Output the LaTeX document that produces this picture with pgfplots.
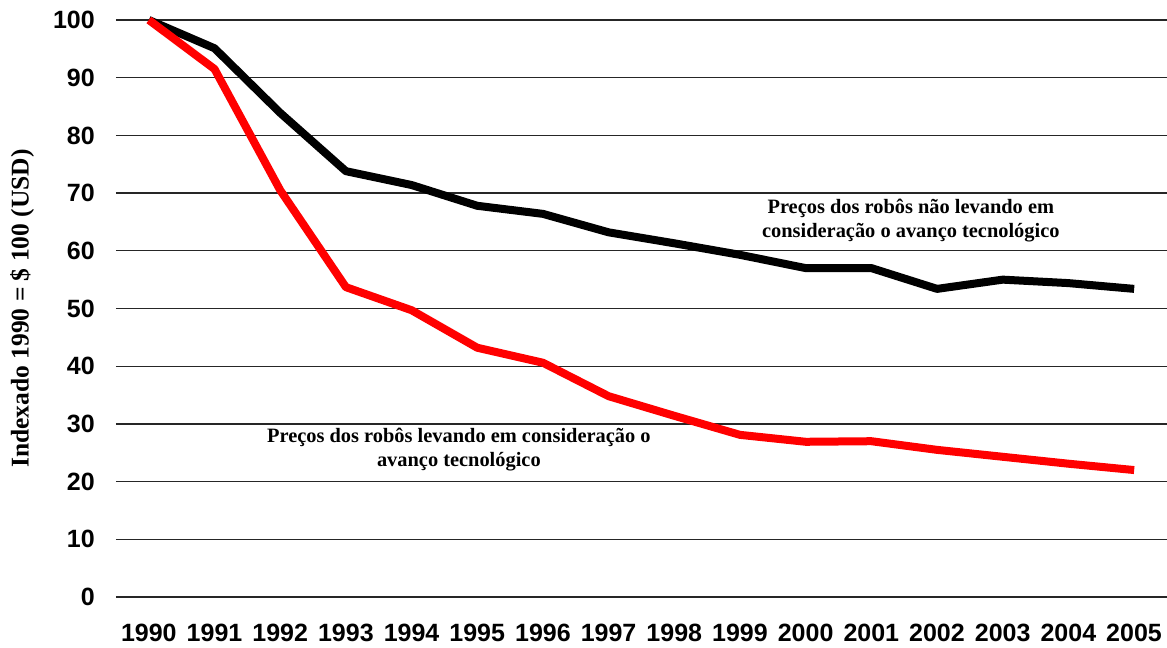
\documentclass[border=0pt]{standalone}
\usepackage{fontspec}
\setmainfont{Liberation Serif}
\newfontfamily\arial{Liberation Sans}
\usepackage{pgfplots}
\pgfplotsset{compat=1.18}
\begin{document}
\begin{tikzpicture}
\begin{axis}[
  at={(0,0)}, anchor=south west,
  scale only axis,
  width=1051bp, height=577bp,
  xmin=1989.5, xmax=2005.5,
  ymin=0, ymax=100,
  xtick={1990,...,2005},
  ytick={0,10,...,100},
  axis line style={draw=none},
  major tick length=0pt,
  ymajorgrids,
  grid style={line width=1.3pt, color=black!85},
  /pgf/number format/assume math mode=true,
  /pgf/number format/1000 sep={},
  xticklabel style={font=\arial\bfseries\fontsize{25bp}{28bp}\selectfont, inner sep=0pt, anchor=north, yshift=-27bp},
  yticklabel style={font=\arial\bfseries\fontsize{25bp}{28bp}\selectfont, inner sep=0pt, anchor=east, xshift=-21bp},
  ylabel={Indexado 1990 = \$ 100 (USD)},
  ylabel style={font=\bfseries\fontsize{25.5bp}{28bp}\selectfont, at={(axis description cs:-0.0894,0.5)}, anchor=center, inner sep=0pt},
  clip=false,
]
\addplot[black, line width=8bp, line join=round] coordinates {
(1990,100) (1991,95.1) (1992,83.9) (1993,73.8) (1994,71.4) (1995,67.8) (1996,66.4) (1997,63.2) (1998,61.3) (1999,59.3) (2000,57.0) (2001,57.0) (2002,53.4) (2003,55.0) (2004,54.4) (2005,53.4)};
\addplot[red, line width=8bp, line join=round] coordinates {
(1990,100) (1991,91.5) (1992,70.5) (1993,53.7) (1994,49.7) (1995,43.2) (1996,40.6) (1997,34.8) (1998,31.4) (1999,28.1) (2000,26.9) (2001,27.0) (2002,25.5) (2003,24.3) (2004,23.1) (2005,22.0)};
\node[align=center, font=\bfseries\fontsize{20.4bp}{24bp}\selectfont, inner sep=0pt] at (axis cs:2001.6,65.3) {Preços dos robôs não levando em\\consideração o avanço tecnológico};
\node[align=center, font=\bfseries\fontsize{20.4bp}{24bp}\selectfont, inner sep=0pt] at (axis cs:1994.72,25.5) {Preços dos robôs levando em consideração o\\avanço tecnológico};
\end{axis}
\pgfresetboundingbox
\path (-116bp,-51bp) rectangle (1051bp,597bp);
\end{tikzpicture}
\end{document}
